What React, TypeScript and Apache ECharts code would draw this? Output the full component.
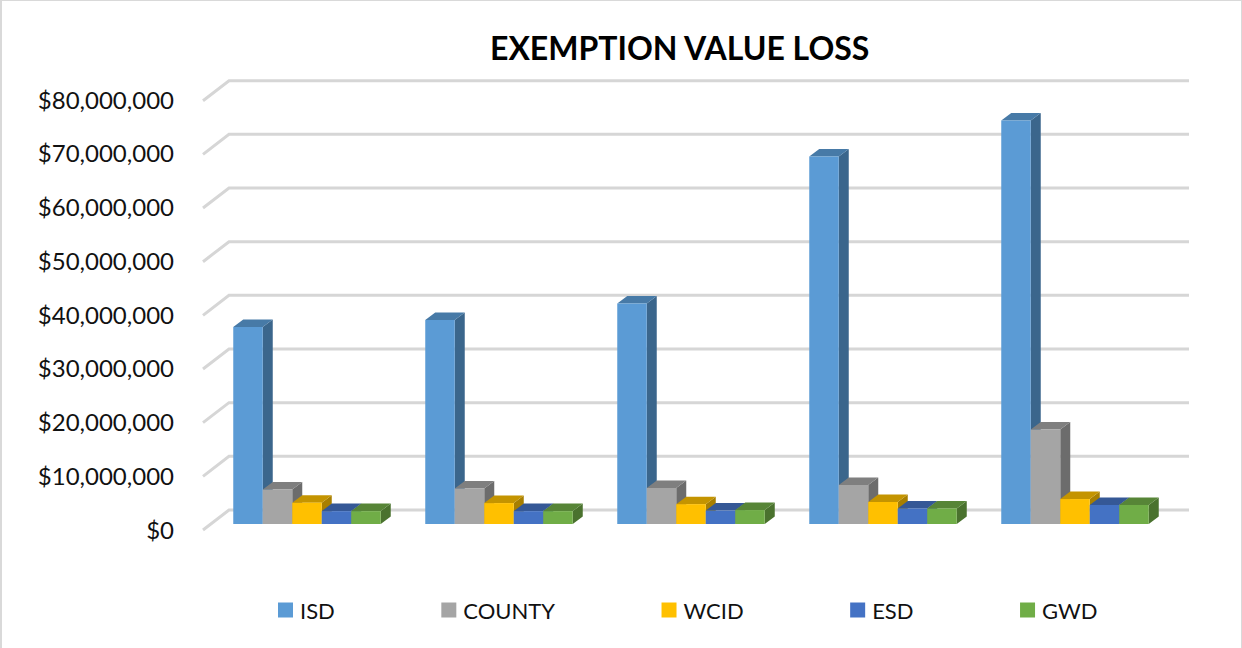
import React, { useEffect, useRef } from "react";
import * as echarts from "echarts";

const FONT = "Lato";
const categories = ["1", "2", "3", "4", "5"];
const tickValues = [0, 10000000, 20000000, 30000000, 40000000, 50000000, 60000000, 70000000, 80000000];
const isd = [36700000, 38000000, 41100000, 68500000, 75200000];
const county = [6450000, 6600000, 6700000, 7250000, 17600000];
const wcid = [3970000, 3900000, 3700000, 4100000, 4650000];
const esd = [2400000, 2400000, 2500000, 2900000, 3550000];
const gwd = [2400000, 2400000, 2600000, 2900000, 3550000];

const seriesDefs = [
  { name: "ISD", values: isd, front: "#5B9BD5", top: "#477AA7", side: "#3B668C" },
  { name: "COUNTY", values: county, front: "#A5A5A5", top: "#7F7F7F", side: "#6C6C6C" },
  { name: "WCID", values: wcid, front: "#FFC000", top: "#C49400", side: "#A87F00" },
  { name: "ESD", values: esd, front: "#4472C4", top: "#355896", side: "#2D4B80" },
  { name: "GWD", values: gwd, front: "#70AD47", top: "#578537", side: "#4A722E" },
];

// 3D projection constants (pixels)
const WALL_DX = -26;
const WALL_DY = 20;
const BAR_FRONT_DX = -18;
const BAR_FRONT_DY = 14;
const BAR_DEPTH_X = 10;
const BAR_DEPTH_Y = -7.5;
const BAR_RATIO = 147.5 / 192 / 5;

export default function App() {
  const ref = useRef<HTMLDivElement>(null);
  useEffect(() => {
    const chart = echarts.init(ref.current!, undefined, { renderer: "svg" });
    const bars = seriesDefs.map((def, si) => ({
      type: "custom",
      name: def.name,
      coordinateSystem: "cartesian2d",
      xAxisIndex: 0,
      yAxisIndex: 0,
      itemStyle: { color: def.front },
      clip: false,
      data: def.values.map((v, i) => [i, v]),
      renderItem: (_p: any, api: any) => {
        const base = api.coord([api.value(0), 0]);
        const top = api.coord([api.value(0), api.value(1)]);
        const band = api.size([1, 0])[0];
        const w = band * BAR_RATIO;
        const x0 = base[0] + BAR_FRONT_DX + (si - 2.5) * w;
        const x1 = x0 + w;
        const yB = base[1] + BAR_FRONT_DY;
        const yT = top[1] + BAR_FRONT_DY;
        const dx = BAR_DEPTH_X;
        const dy = BAR_DEPTH_Y;
        return {
          type: "group",
          children: [
            { type: "polygon", shape: { points: [[x1, yB], [x1 + dx, yB + dy], [x1 + dx, yT + dy], [x1, yT]] }, style: { fill: def.side } },
            { type: "polygon", shape: { points: [[x0, yT], [x0 + dx, yT + dy], [x1 + dx, yT + dy], [x1, yT]] }, style: { fill: def.top } },
            { type: "rect", shape: { x: x0, y: yT, width: w, height: yB - yT }, style: { fill: def.front } },
          ],
        };
      },
    }));
    const wallLines = {
      type: "custom",
      coordinateSystem: "cartesian2d",
      xAxisIndex: 0,
      yAxisIndex: 0,
      silent: true,
      clip: false,
      z: 1,
      data: tickValues.map((v) => [0, v]),
      renderItem: (params: any, api: any) => {
        const p = api.coord([0, api.value(1)]);
        const band = api.size([1, 0])[0];
        const x = p[0] - band / 2;
        return {
          type: "polyline",
          shape: { points: [[x + WALL_DX, p[1] + WALL_DY], [x, p[1]], [x + band * 5, p[1]]] },
          style: { stroke: "#D6D6D6", lineWidth: 3, fill: "none" },
        };
      },
    };
    chart.setOption({
      animation: false,
      backgroundColor: "#fff",
      title: {
        text: "EXEMPTION VALUE LOSS",
        left: 485,
        top: 26,
        textStyle: { fontFamily: FONT, fontWeight: "bold", fontSize: 32, color: "#000" },
      },
      legend: {
        left: 273,
        top: 594,
        icon: "rect",
        itemWidth: 15,
        itemHeight: 15,
        itemGap: 106.5,
        selectedMode: false,
        data: seriesDefs.map((d) => d.name),
        textStyle: { fontFamily: FONT, fontSize: 22, color: "#111", padding: [0, 0, 0, 2] },
      },
      grid: [
        { left: 229, width: 960, top: 80.7, height: 429.3 },
        { left: 203, width: 960, top: 99, height: 430 },
      ],
      xAxis: [
        { type: "category", data: categories, gridIndex: 0, axisLine: { show: false }, axisTick: { show: false }, axisLabel: { show: false } },
        { type: "category", data: categories, gridIndex: 1, show: false },
      ],
      yAxis: [
        { type: "value", gridIndex: 0, min: 0, max: 80000000, interval: 10000000, axisLabel: { show: false }, axisLine: { show: false }, axisTick: { show: false }, splitLine: { show: false } },
        {
          type: "value", gridIndex: 1, min: 0, max: 80000000, interval: 10000000,
          axisLine: { show: false }, axisTick: { show: false }, splitLine: { show: false },
          axisLabel: {
            margin: 29,
            fontFamily: FONT,
            fontSize: 24,
            color: "#111",
            formatter: (v: number) => "$" + v.toLocaleString("en-US"),
          },
        },
      ],
      graphic: [
        { type: "line", shape: { x1: 0, y1: 0.5, x2: 1242, y2: 0.5 }, style: { stroke: "#D9D9D9", lineWidth: 1 } },
        { type: "line", shape: { x1: 1, y1: 0, x2: 1, y2: 648 }, style: { stroke: "#D9D9D9", lineWidth: 2 } },
        { type: "line", shape: { x1: 1241.5, y1: 0, x2: 1241.5, y2: 648 }, style: { stroke: "#D9D9D9", lineWidth: 1 } },
      ],
      series: [wallLines, ...bars],
    });
    return () => chart.dispose();
  }, []);
  return <div ref={ref} style={{ position: "fixed", left: 0, top: 0, width: 1242, height: 648 }} />;
}
